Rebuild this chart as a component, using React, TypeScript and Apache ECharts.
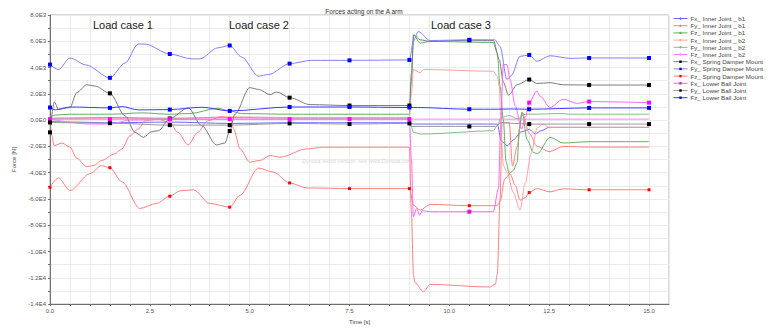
import React, { useEffect, useRef } from "react";
import * as echarts from "echarts";

const seriesNames = [
  "Fx_ Inner Joint _ b1",
  "Fy_ Inner Joint _ b1",
  "Fz_ Inner Joint _ b1",
  "Fx_ Inner Joint _ b2",
  "Fy_ Inner Joint _ b2",
  "Fz_ Inner Joint _ b2",
  "Fx_ Spring Damper Mount",
  "Fy_ Spring Damper Mount",
  "Fz_ Spring Damper Mount",
  "Fx_ Lower Ball Joint",
  "Fy_ Lower Ball Joint",
  "Fz_ Lower Ball Joint",
];

const markerTimes = [0, 1.5, 3, 4.5, 6, 7.5, 9, 10.5, 12, 13.5, 15];

const fxInnerB1 = [[0,-100],[0.5,-150],[1.5,-200],[3,-150],[4.5,-250],[6,-200],[7.5,-200],[9,-200],[9.1,-300],[11.2,-300],[11.3,-1600],[11.45,-1950],[11.6,-1500],[11.8,-900],[12.0,-700],[12.15,-1050],[12.3,-800],[12.5,-550],[13.5,-550],[15,-550]];
const fyInnerB1 = [[0,0],[0.05,-1200],[0.1,-1940],[0.3,-1750],[0.5,-2050],[0.67,-2900],[0.92,-3550],[1.1,-3450],[1.29,-3070],[1.62,-2570],[1.8,-2190],[2.0,-1200],[2.21,-680],[2.38,-50],[2.7,75],[3.0,-180],[3.2,-930],[3.46,-1890],[3.7,-930],[3.95,-50],[4.3,280],[4.53,75],[4.6,-680],[4.76,-2190],[5.0,-3190],[5.26,-3070],[5.51,-2690],[5.76,-2820],[6.43,-2190],[6.85,-2060],[9.0,-2060],[9.05,-7000],[9.1,-11750],[9.14,-12380],[9.35,-13050],[9.52,-12500],[11.0,-12700],[11.15,-12500],[11.2,-11750],[11.27,-6000],[11.32,-200],[11.5,-200],[11.58,-3500],[11.7,-2000],[11.82,600],[12.0,-1000],[12.2,-2000],[12.5,-2400],[12.85,-2000],[13.5,-2050],[15,-2050]];
const fzInnerB1 = [[0,300],[0.2,400],[0.5,450],[1.5,450],[2.3,550],[3,450],[3.5,500],[4.2,900],[4.5,700],[4.8,500],[6,450],[9,450],[9.05,3000],[9.1,6490],[9.27,5860],[9.52,5990],[11.1,5910],[11.2,5110],[11.27,2590],[11.35,75],[11.42,-3190],[11.5,-4075],[11.6,-3830],[11.7,-3190],[11.75,-700],[11.82,580],[11.95,-1500],[12.1,-2440],[12.2,-2565],[12.52,-1310],[12.85,-1740],[13.5,-1640],[15,-1640]];
const fxInnerB2 = [[0,100],[1.5,150],[3,100],[4.5,250],[6,200],[9,200],[9.05,2000],[9.1,3850],[9.27,3600],[9.35,3850],[11.1,3720],[11.2,3345],[11.25,2590],[11.3,-1180],[11.35,-3450],[11.45,-4000],[11.6,-5500],[11.77,-6840],[11.9,-4800],[12.05,-2500],[12.2,-600],[12.35,-300],[12.5,-550],[13.5,-550],[15,-550]];
const fyInnerB2 = [[0,150],[1.5,200],[3,150],[4.5,200],[6,150],[9,150],[9.05,-500],[9.1,-930],[9.3,-1057],[11.1,-810],[11.2,-430],[11.3,200],[11.5,350],[11.7,100],[11.9,450],[12,450],[12.85,500],[13,450],[15,450]];
const fzInnerB2 = [[0,75],[1,-300],[1.5,-300],[2,0],[3,50],[4.5,75],[6,75],[9,75],[15,75]];
const fxSDM = [[0,-930],[0.11,1380],[0.21,830],[0.5,955],[0.67,2090],[0.92,2690],[1.13,2590],[1.5,2040],[1.88,325],[2.13,-930],[2.34,-1310],[2.55,-880],[2.72,-800],[3.0,125],[3.46,930],[3.8,-430],[4.17,-1890],[4.38,-1740],[4.5,-830],[4.63,450],[5.0,2470],[5.22,2340],[5.51,1940],[5.68,2140],[6.0,1710],[6.51,1180],[7.5,1110],[9.0,1110],[9.05,3500],[9.11,6490],[9.27,6110],[9.52,5990],[10.5,6080],[11.1,6060],[11.25,4600],[11.35,2900],[11.48,1900],[11.7,2700],[12.0,3090],[12.19,2790],[12.52,2850],[12.85,2690],[13.5,2670],[15,2670]];
const fySDM = [[0,4226],[0.21,3849],[0.5,4730],[0.9,4200],[1.5,3220],[1.88,4350],[2.21,5790],[2.38,5790],[3.0,5030],[3.55,4660],[3.75,4660],[4.2,5500],[4.5,5680],[4.8,4800],[5.22,3345],[5.47,3470],[6.0,4300],[6.55,4550],[7.5,4550],[9.0,4580],[9.1,6000],[9.22,6740],[9.52,6060],[10.5,6110],[11.14,6110],[11.27,5610],[11.44,3095],[11.55,3400],[11.77,4850],[12.0,4960],[12.19,4480],[12.52,4900],[13.02,4700],[13.5,4730],[15,4730]];
const fzSDM = [[0,-5110],[0.21,-4400],[0.5,-5360],[1.0,-4075],[1.29,-3470],[1.5,-3620],[1.8,-4700],[2.25,-6720],[2.67,-6340],[3.0,-5790],[3.26,-5380],[3.59,-5300],[4.0,-6340],[4.5,-6620],[4.76,-5710],[5.22,-3650],[5.59,-3950],[6.0,-4780],[6.43,-5160],[7.5,-5210],[9.0,-5210],[9.1,-6470],[9.27,-6840],[9.52,-6410],[10.5,-6510],[11.19,-6510],[11.27,-6210],[11.39,-4450],[11.52,-4075],[11.65,-4960],[11.77,-6100],[11.9,-5900],[12.0,-5510],[12.19,-5210],[12.52,-5460],[12.85,-5230],[13.5,-5300],[15,-5300]];
const fxLBJ = [[0,75],[1.5,75],[3.0,75],[4.5,75],[6,75],[7.5,75],[9.0,75],[9.05,-3000],[9.1,-7340],[9.18,-6720],[9.25,-7240],[9.32,-6900],[9.52,-6970],[10.5,-6970],[11.1,-6970],[11.23,-5210],[11.28,-1000],[11.35,4230],[11.44,4230],[11.52,3090],[11.65,1080],[11.81,-680],[11.9,200],[12.0,1330],[12.19,2210],[12.27,1830],[12.52,960],[12.85,1585],[13.19,1280],[13.5,1410],[15,1330]];
const fyLBJ = [[0,-180],[1.5,-230],[3.0,-380],[4.5,-380],[6.0,-250],[7.5,-300],[9.0,-250],[9.05,-480],[10.5,-480],[11.15,-480],[11.3,-180],[11.6,-250],[12.0,-300],[13.5,-300],[15,-300]];
const fzLBJ = [[0,960],[0.13,780],[0.5,1000],[1.5,930],[1.8,1030],[2.21,780],[3.0,800],[3.8,980],[4.5,700],[6.0,1000],[7.5,1000],[9.0,960],[9.2,960],[10.5,830],[11.2,830],[11.5,850],[12.0,830],[13.5,930],[15,930]];

const allData = [fxInnerB1, fyInnerB1, fzInnerB1, fxInnerB2, fyInnerB2, fzInnerB2, fxSDM, fySDM, fzSDM, fxLBJ, fyLBJ, fzLBJ];
const lineColors = ["#6a6aff", "#ff8080", "#60b060", "#ffa0a0", "#80c080", "#ff80ff", "#7a7a7a", "#8080ff", "#ff8080", "#ff66ff", "#999999", "#3b3bff"];
const markerColors = [null, null, null, null, null, null, "#000000", "#0000ff", "#ff0000", "#ff00ff", "#000000", "#0000ff"];

const loadCaseLabels = [
  { text: "Load case 1", x: 93 },
  { text: "Load case 2", x: 229 },
  { text: "Load case 3", x: 431 },
];

function fmtY(v: number): string {
  if (v === 0) return "0.0E0";
  const e = Math.floor(Math.log10(Math.abs(v)) + 1e-9);
  const m = v / Math.pow(10, e);
  return m.toFixed(1) + "E" + e;
}

export default function App() {
  const ref = useRef<HTMLDivElement>(null);
  useEffect(() => {
    if (!ref.current) return;
    const chart = echarts.init(ref.current, null, { renderer: "svg" });
    const font = "Liberation Sans, Arial, sans-serif";
    const series = allData.map((d, i) => {
      const mc = markerColors[i];
      const base: any = {
        name: seriesNames[i],
        type: "line",
        data: d,
        smooth: 0.3,
        smoothMonotone: "x",
        lineStyle: { width: 1, color: lineColors[i] },
        color: lineColors[i],
        z: 2 + i,
      };
      if (mc) {
        base.symbol = "rect";
        base.showAllSymbol = true;
        base.symbolSize = (val: number[]) => (markerTimes.includes(val[0]) ? (i === 8 ? 3 : 4) : 0);
        base.itemStyle = { color: mc, borderWidth: 0 };
      } else {
        base.symbol = "none";
      }
      return base;
    });
    chart.setOption({
      animation: false,
      backgroundColor: "#ffffff",
      textStyle: { fontFamily: font },
      title: {
        text: "Forces acting on the A arm",
        left: 359,
        top: 3,
        textAlign: "center",
        textStyle: { fontSize: 6.5, fontWeight: "normal", color: "#333", fontFamily: font },
      },
      grid: { left: 50, right: 100, top: 15, bottom: 24, show: true, borderColor: "#b0b0b0", borderWidth: 1 },
      legend: {
        orient: "vertical",
        left: 673,
        top: 15,
        itemWidth: 14,
        itemHeight: 3,
        itemGap: 0.2,
        padding: 0,
        lineStyle: { width: 1 },
        itemStyle: { borderWidth: 0 },
        textStyle: { fontSize: 6.2, color: "#444", lineHeight: 7, fontFamily: font, padding: [0, 0, 0, -2] },
        data: seriesNames,
      },
      xAxis: {
        type: "value",
        min: 0,
        max: 15.5,
        interval: 0.5,
        name: "Time [s]",
        nameLocation: "middle",
        nameGap: 14,
        nameTextStyle: { fontSize: 6, color: "#444" },
        axisLine: { show: true, onZero: false, lineStyle: { color: "#707070" } },
        axisTick: { show: true, length: 2, inside: false, lineStyle: { color: "#707070" } },
        axisLabel: {
          fontSize: 6,
          color: "#555",
          margin: 4,
          showMaxLabel: false,
          formatter: (v: number) => (Math.abs(v / 2.5 - Math.round(v / 2.5)) < 1e-6 ? v.toFixed(1) : ""),
        },
        splitLine: { show: true, lineStyle: { color: "#ebebeb", width: 1 } },
      },
      yAxis: {
        type: "value",
        min: -14000,
        max: 8000,
        interval: 1000,
        name: "Force [N]",
        nameLocation: "middle",
        nameGap: 28,
        nameTextStyle: { fontSize: 6, color: "#444" },
        axisLine: { show: true, lineStyle: { color: "#707070" } },
        axisTick: { show: true, length: 2, lineStyle: { color: "#707070" } },
        axisLabel: {
          fontSize: 6,
          color: "#555",
          margin: 4,
          formatter: (v: number) => (Math.round(v) % 2000 === 0 ? fmtY(v) : ""),
        },
        splitLine: { show: true, lineStyle: { color: "#ebebeb", width: 1 } },
      },
      graphic: [
        ...loadCaseLabels.map((l) => ({
          type: "text",
          left: l.x,
          top: 19,
          z: 100,
          style: { text: l.text, fontSize: 11, fill: "#222", fontFamily: font },
        })),
        {
          type: "text",
          left: 302,
          top: 158,
          z: 1,
          style: { text: "Dymola demo version, see www.Dymola.com", fontSize: 5.5, fill: "#d8d8d8", fontFamily: font },
        },
      ],
      series,
    });
    return () => chart.dispose();
  }, []);
  return <div ref={ref} style={{ position: "fixed", left: 0, top: 0, width: 769, height: 330 }} />;
}
